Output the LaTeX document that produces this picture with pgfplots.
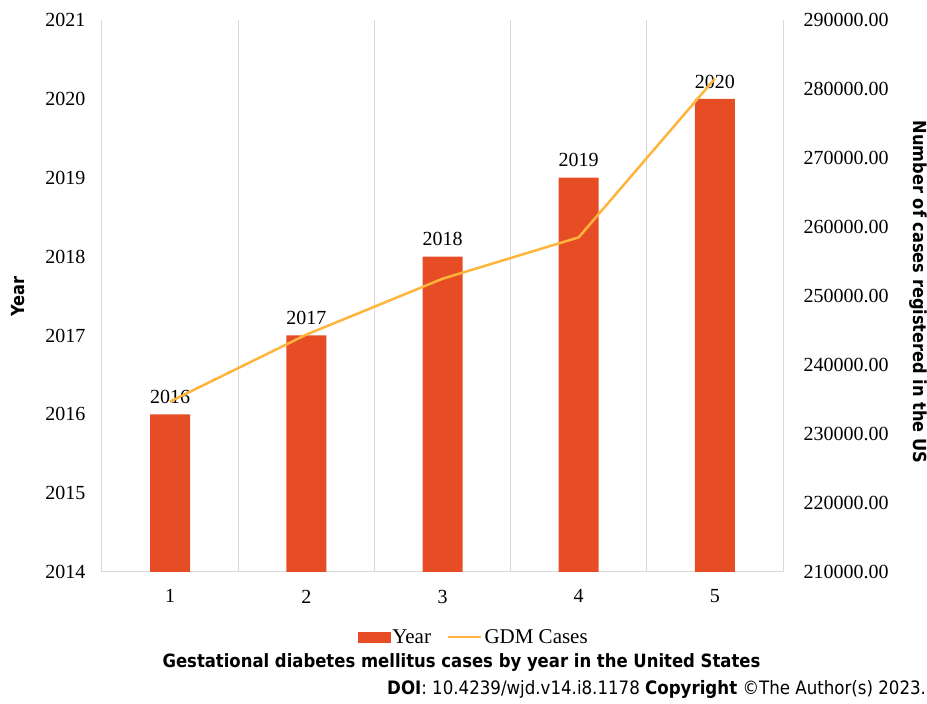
\documentclass[border=0pt]{standalone}
\usepackage{pgfplots}
\pgfplotsset{compat=1.18}
\usepackage{fontspec}
\setmainfont{Liberation Serif}
\newfontfamily\labfont{DejaVu Sans Condensed}
\definecolor{barred}{RGB}{230,77,36}
\definecolor{gdmorange}{RGB}{255,180,60}
\definecolor{gridgray}{RGB}{217,217,217}

\begin{document}
\begin{tikzpicture}
\path[use as bounding box] (-102pt,-132pt) rectangle (825pt,572pt);
\pgfplotsset{
  base/.style={
    scale only axis, width=681pt, height=552pt,
    at={(0pt,0pt)}, anchor=south west,
    xmin=0.5, xmax=5.5,
    tick label style={font=\fontsize{20}{24}\selectfont},
    /pgf/number format/assume math mode=true,
    /pgf/number format/1000 sep={},
  }
}
\begin{axis}[base,
  ymin=2014, ymax=2021, ytick={2014,...,2021},
  yticklabel style={xshift=-13pt},
  axis x line*=bottom, axis y line*=left,
  y axis line style={draw=none},
  x axis line style={draw=gridgray, line width=1pt, -},
  ytick style={draw=none},
  xtick={1,...,5},
  xtick style={draw=none},
  xticklabel style={yshift=-10pt},
  extra x ticks={0.5,1.5,...,5.5},
  extra x tick labels={},
  extra x tick style={grid=major, major grid style={draw=gridgray, line width=1pt},
    tick style={draw=gridgray, line width=1pt}, major tick length=7pt, tick align=outside},
  ybar, bar width=40pt,
  nodes near coords,
  nodes near coords style={font=\fontsize{20}{24}\selectfont, yshift=7pt},
]
\addplot[fill=barred, draw=none] coordinates {(1,2016) (2,2017) (3,2018) (4,2019) (5,2020)};
\end{axis}
\begin{axis}[base,
  ymin=210000, ymax=290000, ytick={210000,220000,...,290000},
  axis y line*=right, axis x line=none,
  y axis line style={draw=none},
  ytick style={draw=none},
  yticklabel style={xshift=17pt, /pgf/number format/.cd, fixed, fixed zerofill, precision=2, 1000 sep={}},
  scaled y ticks=false,
  legend style={at={(axis description cs:0.546,-0.118)}, anchor=center, draw=none, fill=none,
    font=\fontsize{21}{24}\selectfont, legend columns=2,
    /tikz/every even column/.append style={column sep=14pt}},
]
\addlegendimage{legend image code/.code={\fill[barred] (0pt,-5pt) rectangle (32pt,5pt);}}
\addlegendentry{Year}
\addplot[gdmorange, line width=2.5pt, mark=none,
  legend image code/.code={\draw[gdmorange, line width=2.5pt] (0pt,0pt) -- (33pt,0pt);}]
  coordinates {(1,234700) (2,244400) (3,252500) (4,258500) (5,281500)};
\addlegendentry{GDM Cases}
\end{axis}
\node[rotate=90, font=\labfont\bfseries\fontsize{18}{22}\selectfont] at (-84pt,275pt) {Year};
\node[rotate=-90, font=\labfont\bfseries\fontsize{18}{22}\selectfont] at (816pt,280pt)
  {Number of cases registered in the US};
\node[anchor=base, font=\labfont\bfseries\fontsize{18.3}{22}\selectfont] at (359.5pt,-96pt)
  {Gestational diabetes mellitus cases by year in the United States};
\node[anchor=base west, inner sep=0pt, font=\labfont\fontsize{18.5}{22}\selectfont] at (285pt,-123pt)
  {\textbf{DOI}: 10.4239/wjd.v14.i8.1178 \textbf{Copyright} ©The Author(s) 2023.};
\end{tikzpicture}
\end{document}
